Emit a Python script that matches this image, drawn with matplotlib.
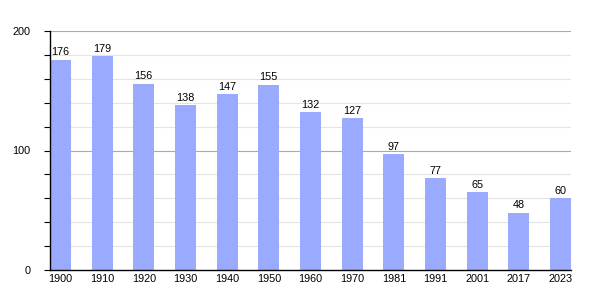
import matplotlib
matplotlib.use('Agg')
import matplotlib.pyplot as plt
import numpy as np

# Population data
years = ['1900', '1910', '1920', '1930', '1940', '1950', '1960', '1970',
         '1981', '1991', '2001', '2017', '2023']
population = [176, 179, 156, 138, 147, 155, 132, 127, 97, 77, 65, 48, 60]

fig = plt.figure(figsize=(6, 3), dpi=100)
ax = fig.add_axes([50/600, 30/300, 521/600, 239/300])

x = np.arange(len(years))
ax.bar(x, population, width=0.5, color='#99aaff', zorder=2)

for xi, v in zip(x, population):
    ax.text(xi, v + 2, str(v), ha='center', va='bottom', fontsize=7.8,
            family='Liberation Sans')

# gridlines
for y in range(20, 201, 20):
    if y % 100 == 0:
        ax.axhline(y, color='#aaaaaa', lw=0.8, zorder=1)
    else:
        ax.axhline(y, color='#e4e4e4', lw=0.8, zorder=1)

ax.set_xlim(-0.25, 12.25)
ax.set_ylim(0, 200)
ax.set_xticks(x)
ax.set_xticklabels(years, family='Liberation Sans', fontsize=7.8)
ax.set_yticks([0, 100, 200])
ax.set_yticklabels(['0', '100', '200'], family='Liberation Sans', fontsize=7.8)
ax.set_yticks(range(0, 201, 20), minor=True)
ax.tick_params(axis='y', which='both', length=4, width=0.8, pad=10)
ax.tick_params(axis='x', length=0, pad=3)

for s in ['top', 'right']:
    ax.spines[s].set_visible(False)
ax.spines['left'].set_linewidth(1)
ax.spines['bottom'].set_linewidth(1)

fig.savefig('out.png', dpi=100)
